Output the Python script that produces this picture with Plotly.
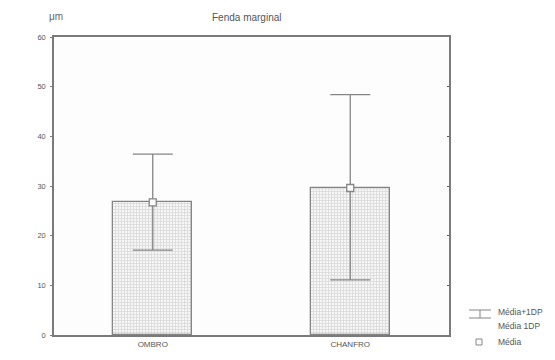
import plotly.graph_objects as go

categories = ["OMBRO", "CHANFRO"]
means = [26.7, 29.6]
upper = [36.4, 48.4]
lower = [17.1, 11.1]
y_ticks = [0, 10, 20, 30, 40, 50, 60]

err_plus = [u - m for u, m in zip(upper, means)]
err_minus = [m - l for m, l in zip(means, lower)]

LINE = "#858585"
AXIS = "#7a7a7a"
TXT = "#555555"

fig = go.Figure()
fig.add_trace(go.Bar(
    x=categories, y=means, width=0.4,
    marker=dict(color="white", line=dict(color=LINE, width=1.3),
                pattern=dict(shape="+", size=3, solidity=0.3, fgcolor="#a5a5a5", bgcolor="#f5f5f5")),
    showlegend=False, hoverinfo="skip",
))
fig.add_trace(go.Scatter(
    x=categories, y=means, mode="markers",
    marker=dict(symbol="square", size=7, color="white", line=dict(color=LINE, width=1.3)),
    error_y=dict(type="data", symmetric=False, array=err_plus, arrayminus=err_minus,
                 color=LINE, thickness=1.3, width=20),
    showlegend=False, hoverinfo="skip",
))
# invisible trace to anchor right-side mirrored axis
fig.add_trace(go.Scatter(x=categories, y=means, yaxis="y2", mode="markers",
                         marker=dict(opacity=0), showlegend=False, hoverinfo="skip"))

fig.update_layout(
    width=555, height=360,
    margin=dict(l=54, r=106, t=37, b=25),
    paper_bgcolor="white", plot_bgcolor="#fdfdfd",
    font=dict(family="Liberation Sans, Arial, sans-serif", color=TXT, size=7),
    xaxis=dict(range=[-0.5, 1.5], showgrid=False, zeroline=False, automargin=False,
               showline=True, linecolor=AXIS, linewidth=1.5, mirror=True,
               ticks="", ticklabelstandoff=1, tickfont=dict(size=8, color=TXT)),
    yaxis=dict(range=[0, 60], tickvals=y_ticks, showgrid=False, zeroline=False, automargin=False,
               showline=True, linecolor=AXIS, linewidth=1.5,
               ticks="outside", ticklen=2, tickcolor=AXIS, ticklabelstandoff=3,
               tickfont=dict(size=7.5, color=TXT)),
    yaxis2=dict(range=[0, 60], tickvals=y_ticks, overlaying="y", side="right", automargin=False,
                showgrid=False, zeroline=False, showline=True, linecolor=AXIS, linewidth=1.5,
                ticks="inside", ticklen=2, tickcolor="#555", showticklabels=False),
    bargap=0,
)

fig.add_annotation(text="Fenda marginal", xref="paper", yref="paper", x=0.487, y=1.0,
                   yshift=20, showarrow=False, font=dict(size=10, color=TXT), yanchor="middle")
fig.add_annotation(text="μm", xref="paper", yref="paper", x=0.0, y=1.0, xanchor="left",
                   yshift=21, xshift=-7, showarrow=False, font=dict(size=10, color="#666"), yanchor="middle")

# legend
px_x = lambda px: (px - 54) / (449 - 54)
px_y = lambda py: (335 - py) / (335 - 37)
legend_items = ["Média+1DP", "Média 1DP", "Média"]
legend_y = [312, 326, 342]
for t, yy in zip(legend_items, legend_y):
    fig.add_annotation(text=t, xref="paper", yref="paper", x=px_x(496), y=px_y(yy),
                       xanchor="left", yanchor="middle", showarrow=False,
                       font=dict(size=8.5, color=TXT))
# error-bar legend icon
fig.add_shape(type="line", xref="paper", yref="paper", x0=px_x(469), x1=px_x(491),
              y0=px_y(310), y1=px_y(310), line=dict(color=LINE, width=1))
fig.add_shape(type="line", xref="paper", yref="paper", x0=px_x(469), x1=px_x(491),
              y0=px_y(318), y1=px_y(318), line=dict(color=LINE, width=1))
fig.add_shape(type="line", xref="paper", yref="paper", x0=px_x(480), x1=px_x(480),
              y0=px_y(310), y1=px_y(318), line=dict(color=LINE, width=1))
fig.add_shape(type="rect", xref="paper", yref="paper", x0=px_x(476), x1=px_x(482),
              y0=px_y(339), y1=px_y(345), line=dict(color=LINE, width=1), fillcolor="white")

fig.write_html("out.html", config={"displayModeBar": False},
               post_script="document.body.style.margin='0';document.body.style.overflow='hidden';")
